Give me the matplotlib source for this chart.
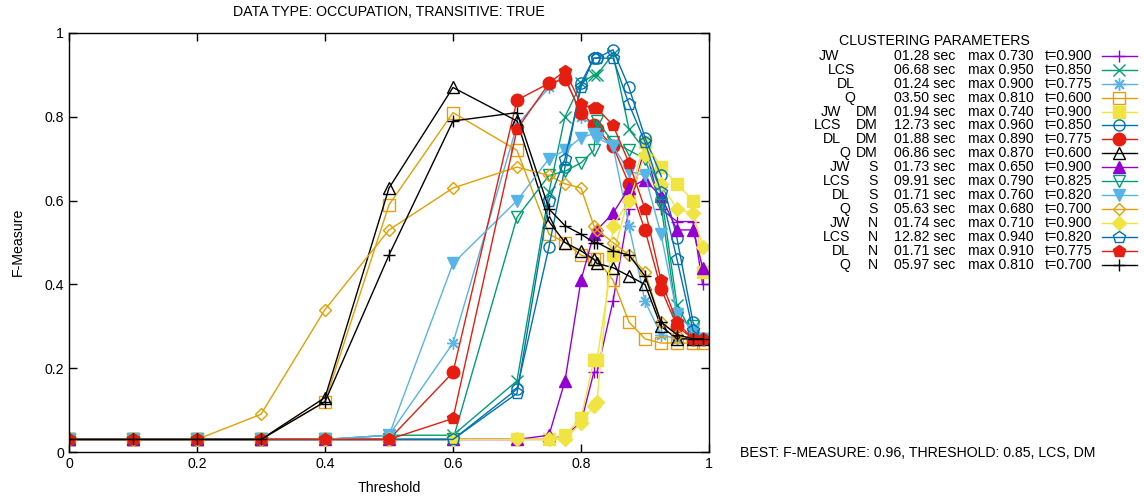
import matplotlib
matplotlib.use("Agg")
import matplotlib.pyplot as plt
from matplotlib.lines import Line2D

plt.rcParams['font.family'] = ['Liberation Sans', 'DejaVu Sans']
plt.rcParams['font.size'] = 10.2

W, H = 1144, 497

thresholds = [0, 0.1, 0.2, 0.3, 0.4, 0.5, 0.6, 0.7, 0.75, 0.775, 0.8, 0.82, 0.825,
              0.85, 0.875, 0.9, 0.925, 0.95, 0.975, 0.99]

jw = [0.03, 0.03, 0.03, 0.03, 0.03, 0.03, 0.03, 0.03, 0.03, 0.04, 0.07, 0.19, 0.19,
      0.36, 0.58, 0.73, 0.58, 0.55, 0.55, 0.40]
lcs = [0.03, 0.03, 0.03, 0.03, 0.03, 0.04, 0.04, 0.17, 0.62, 0.80, 0.88, 0.90, 0.90,
       0.95, 0.77, 0.72, 0.62, 0.35, 0.28, 0.27]
dl = [0.03, 0.03, 0.03, 0.03, 0.03, 0.04, 0.26, 0.78, 0.87, 0.90, 0.80, 0.78, 0.76,
      0.73, 0.54, 0.36, 0.28, 0.27, 0.27, 0.27]
q = [0.03, 0.03, 0.03, 0.03, 0.12, 0.59, 0.81, 0.72, 0.52, 0.50, 0.47, 0.46, 0.46,
     0.41, 0.31, 0.27, 0.26, 0.26, 0.26, 0.26]
jw_dm = [0.03, 0.03, 0.03, 0.03, 0.03, 0.03, 0.03, 0.03, 0.03, 0.04, 0.08, 0.22, 0.22,
         0.47, 0.61, 0.74, 0.68, 0.64, 0.60, 0.43]
lcs_dm = [0.03, 0.03, 0.03, 0.03, 0.03, 0.03, 0.03, 0.15, 0.49, 0.68, 0.88, 0.94, 0.94,
          0.96, 0.87, 0.75, 0.66, 0.51, 0.31, 0.27]
dl_dm = [0.03, 0.03, 0.03, 0.03, 0.03, 0.03, 0.19, 0.84, 0.88, 0.89, 0.81, 0.78, 0.77,
         0.73, 0.64, 0.53, 0.39, 0.30, 0.27, 0.27]
q_dm = [0.03, 0.03, 0.03, 0.03, 0.13, 0.63, 0.87, 0.79, 0.55, 0.50, 0.48, 0.46, 0.45,
        0.44, 0.42, 0.40, 0.30, 0.27, 0.27, 0.27]
jw_s = [0.03, 0.03, 0.03, 0.03, 0.03, 0.03, 0.03, 0.03, 0.04, 0.17, 0.41, 0.52, 0.53,
        0.57, 0.63, 0.65, 0.61, 0.53, 0.53, 0.44]
lcs_s = [0.03, 0.03, 0.03, 0.03, 0.03, 0.03, 0.03, 0.56, 0.66, 0.67, 0.69, 0.72, 0.79,
         0.74, 0.72, 0.70, 0.59, 0.32, 0.30, 0.27]
dl_s = [0.03, 0.03, 0.03, 0.03, 0.03, 0.04, 0.45, 0.60, 0.70, 0.72, 0.75, 0.76, 0.75,
        0.73, 0.67, 0.66, 0.52, 0.33, 0.29, 0.27]
q_s = [0.03, 0.03, 0.03, 0.09, 0.34, 0.53, 0.63, 0.68, 0.66, 0.64, 0.63, 0.54, 0.53,
       0.50, 0.47, 0.43, 0.31, 0.28, 0.27, 0.27]
jw_n = [0.03, 0.03, 0.03, 0.03, 0.03, 0.03, 0.03, 0.03, 0.03, 0.03, 0.07, 0.11, 0.12,
        0.54, 0.60, 0.71, 0.64, 0.58, 0.57, 0.49]
lcs_n = [0.03, 0.03, 0.03, 0.03, 0.03, 0.03, 0.03, 0.14, 0.60, 0.70, 0.87, 0.94, 0.94,
         0.94, 0.83, 0.74, 0.62, 0.46, 0.29, 0.27]
dl_n = [0.03, 0.03, 0.03, 0.03, 0.03, 0.03, 0.08, 0.77, 0.88, 0.91, 0.83, 0.82, 0.82,
        0.78, 0.69, 0.58, 0.41, 0.31, 0.27, 0.27]
q_n = [0.03, 0.03, 0.03, 0.03, 0.12, 0.47, 0.79, 0.81, 0.58, 0.54, 0.52, 0.50, 0.50,
       0.48, 0.47, 0.42, 0.31, 0.28, 0.27, 0.27]

series = [jw, lcs, dl, q, jw_dm, lcs_dm, dl_dm, q_dm,
          jw_s, lcs_s, dl_s, q_s, jw_n, lcs_n, dl_n, q_n]

# key columns
names = ["JW", "LCS", "DL", "Q"] * 4
kinds = [""] * 4 + ["DM"] * 4 + ["S"] * 4 + ["N"] * 4
times = ["01.28", "06.68", "01.24", "03.50", "01.94", "12.73", "01.88", "06.86",
         "01.73", "09.91", "01.71", "05.63", "01.74", "12.82", "01.71", "05.97"]
maxes = ["0.730", "0.950", "0.900", "0.810", "0.740", "0.960", "0.890", "0.870",
         "0.650", "0.790", "0.760", "0.680", "0.710", "0.940", "0.910", "0.810"]
best_t = ["0.900", "0.850", "0.775", "0.600", "0.900", "0.850", "0.775", "0.600",
          "0.900", "0.825", "0.820", "0.700", "0.900", "0.820", "0.775", "0.700"]

purple, green, lblue, orange = '#9400d3', '#009e73', '#56b4e9', '#e69f00'
yellow, blue, red, black = '#f0e442', '#0072b2', '#e51e10', '#000000'
colors = [purple, green, lblue, orange, yellow, blue, red, black] * 2
asterisk = (8, 2, 0)
markers = ['+', 'x', asterisk, 's', 's', 'o', 'o', '^',
           '^', 'v', 'v', 'D', 'D', 'p', 'p', '+']
filled = [True, True, True, False, True, False, True, False,
          True, False, True, False, True, False, True, True]
sizes = [9, 8, 9, 8, 8, 8, 9, 8, 8, 8, 8, 6, 7, 9, 9, 9]


def px(x, y):
    return x / W, 1 - y / H


fig = plt.figure(figsize=(W / 100, H / 100), dpi=100)
l, b = px(69, 452)
r, t = px(709, 33)
ax = fig.add_axes([l, b, r - l, t - b])

for i, vals in enumerate(series):
    fc = colors[i] if filled[i] else 'none'
    ax.plot(thresholds, vals, color=colors[i], lw=1, marker=markers[i], ms=sizes[i],
            mfc=fc, mec=colors[i], mew=1)

ax.set_xlim(0, 1)
ax.set_ylim(0, 1)
ax.set_xticks([0, 0.2, 0.4, 0.6, 0.8, 1])
ax.set_yticks([0, 0.2, 0.4, 0.6, 0.8, 1])
ax.set_xticklabels(["0", "0.2", "0.4", "0.6", "0.8", "1"])
ax.set_yticklabels(["0", "0.2", "0.4", "0.6", "0.8", "1"])
ax.tick_params(direction='in', top=True, right=True, length=6, width=1, labelsize=10.2)
for s in ax.spines.values():
    s.set_linewidth(1)

fig.text(*px(389, 12), "DATA TYPE: OCCUPATION, TRANSITIVE: TRUE", ha='center', va='center')
fig.text(*px(389, 488), "Threshold", ha='center', va='center')
fig.text(*px(18, 242), "F-Measure", ha='center', va='center', rotation=90)

# key block on the right
fig.text(*px(934, 41), "CLUSTERING PARAMETERS", ha='center', va='center')
name_right = [839, 855, 855, 855, 841, 841, 841, 850] + [850] * 8
for i in range(16):
    y = 55.7 + 13.95 * i
    fig.text(*px(name_right[i], y), names[i], ha='right', va='center')
    if kinds[i]:
        fig.text(*px(878, y), kinds[i], ha='right', va='center')
    fig.text(*px(894, y), times[i] + " sec", ha='left', va='center')
    fig.text(*px(968, y), "max " + maxes[i], ha='left', va='center')
    fig.text(*px(1045, y), "t=" + best_t[i], ha='left', va='center')
    x0, yy = px(1102, y)
    x1, _ = px(1137, y)
    xm, _ = px(1119, y)
    fig.add_artist(Line2D([x0, x1], [yy, yy], color=colors[i], lw=1,
                          transform=fig.transFigure))
    fc = colors[i] if filled[i] else 'none'
    fig.add_artist(Line2D([xm], [yy], color=colors[i], lw=0, marker=markers[i],
                          ms=sizes[i], mfc=fc, mec=colors[i], mew=1,
                          transform=fig.transFigure))

fig.text(*px(740, 453), "BEST: F-MEASURE: 0.96, THRESHOLD: 0.85, LCS, DM",
         ha='left', va='center')

fig.savefig("out.png", dpi=100)
